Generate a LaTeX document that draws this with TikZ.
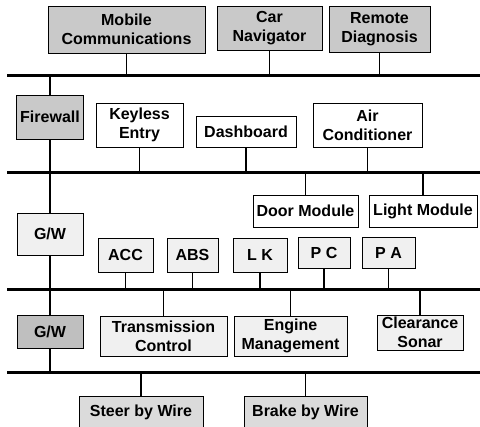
\documentclass[tikz,border=0pt]{standalone}
\usepackage{fontspec}
\setmainfont{Liberation Sans}
\usetikzlibrary{positioning}

\begin{document}
\begin{tikzpicture}[x=1pt,y=-1pt]
\tikzstyle{u}=[draw,line width=0.9pt,align=center,inner sep=0pt,
   font=\fontsize{16}{19}\selectfont\bfseries]
\tikzstyle{dk}=[u,fill=gray!42]
\tikzstyle{md}=[u,fill=gray!28]
\tikzstyle{lt}=[u,fill=gray!12]
\tikzstyle{bus}=[draw,line width=3pt]
\tikzstyle{tap}=[draw,line width=1.1pt]
   \useasboundingbox (0,0) rectangle (480,427);

   % the four buses
   \coordinate (b1) at (7,76);   \coordinate (e1) at (480,76);
   \coordinate (b2) at (7,173);  \coordinate (e2) at (480,173);
   \coordinate (b3) at (7,290);  \coordinate (e3) at (480,290);
   \coordinate (b4) at (7,373);  \coordinate (e4) at (480,373);

   \draw (126.5,29.5) node (mc) [dk,minimum width=157,minimum height=47] {Mobile\\Communications};
   \draw (269.5,28) node (cn) [dk,minimum width=105,minimum height=44] {Car\\Navigator};
   \draw (379.5,29) node (rd) [dk,minimum width=101,minimum height=46] {Remote\\Diagnosis};

   \draw (50,117) node (fw) [dk,minimum width=67,minimum height=44] {Firewall};
   \draw (139.5,125) node (ke) [u,minimum width=87,minimum height=44] {Keyless\\Entry};
   \draw (246,131.5) node (db) [u,minimum width=100,minimum height=31] {Dashboard};
   \draw (367.5,125) node (ac) [u,minimum width=109,minimum height=44] {Air\\Conditioner};

   \draw (305.5,211) node (dm) [u,minimum width=105,minimum height=32] {Door Module};
   \draw (423,211) node (lm) [u,minimum width=108,minimum height=32] {Light Module};

   \draw (50,234) node (gw1) [lt,minimum width=66,minimum height=42] {G/W};
   \draw (125.5,255) node (acc) [lt,minimum width=55,minimum height=34] {ACC};
   \draw (192.5,255) node (abs) [lt,minimum width=51,minimum height=34] {ABS};
   \draw (260,255) node (lk) [lt,minimum width=54,minimum height=34] {L K};
   \draw (324,252.5) node (pc) [lt,minimum width=52,minimum height=31] {P C};
   \draw (388.5,252.5) node (pa) [lt,minimum width=53,minimum height=31] {P A};

   \draw (50,331.5) node (gw2) [dk,fill=gray!50,minimum width=66,minimum height=33] {G/W};
   \draw (163.5,336) node (tc) [lt,minimum width=127,minimum height=40] {Transmission\\Control};
   \draw (290.5,336) node (em) [lt,minimum width=113,minimum height=40] {Engine\\Management};
   \draw (420,332.5) node (cs) [lt,minimum width=86,minimum height=35] {Clearance\\Sonar};

   \draw (141,412) node (sw) [md,minimum width=124,minimum height=32] {Steer by Wire};
   \draw (305.5,412) node (bw) [md,minimum width=123,minimum height=32] {Brake by Wire};

   \path [bus] (b1) -- (e1);
   \path [bus] (b2) -- (e2);
   \path [bus] (b3) -- (e3);
   \path [bus] (b4) -- (e4);

   \path [tap] (mc) -- (mc |- b1);
   \path [tap] (cn) -- (cn |- b1);
   \path [tap] (rd) -- (rd |- b1);
   \path [tap] (fw) -- (fw |- b1);
   \path [tap] (fw) -- (gw1);
   \path [tap] (ke) -- (ke |- b2);
   \path [tap] (db) -- (db |- b2);
   \path [tap] (ac) -- (ac |- b2);
   \path [tap] (dm) -- (dm |- b2);
   \path [tap] (lm) -- (lm |- b2);
   \path [tap] (gw1) -- (gw2);
   \path [tap] (acc) -- (acc |- b3);
   \path [tap] (abs) -- (abs |- b3);
   \path [tap] (lk) -- (lk |- b3);
   \path [tap] (pc) -- (pc |- b3);
   \path [tap] (pa) -- (pa |- b3);
   \path [tap] (tc) -- (tc |- b3);
   \path [tap] (em) -- (em |- b3);
   \path [tap] (cs) -- (cs |- b3);
   \path [tap] (gw2) -- (gw2 |- b4);
   \path [tap] (sw) -- (sw |- b4);
   \path [tap] (bw) -- (bw |- b4);
\end{tikzpicture}
\end{document}
